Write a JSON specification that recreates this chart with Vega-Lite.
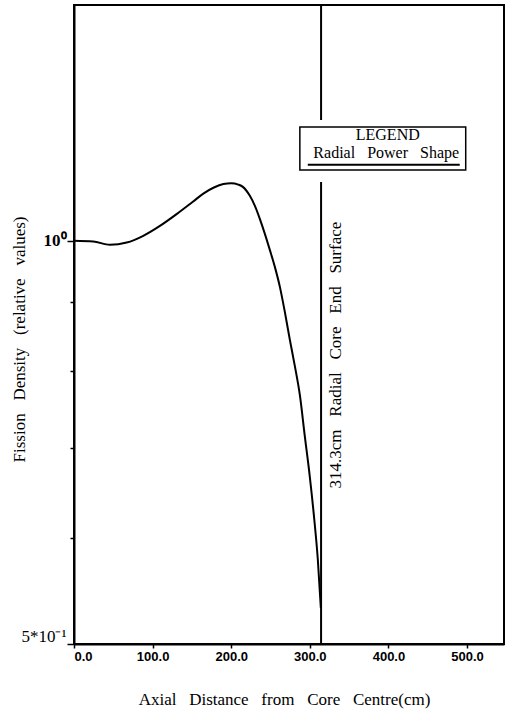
{
  "$schema": "https://vega.github.io/schema/vega-lite/v6.json",
  "width": 430,
  "height": 639,
  "autosize": {"type": "none"},
  "padding": {"left": 74, "top": 5, "right": 2, "bottom": 66},
  "background": "white",
  "config": {
    "view": {"stroke": "black", "strokeWidth": 2},
    "axis": {"grid": false, "domainColor": "black", "domainWidth": 2, "tickColor": "black", "tickWidth": 1.5, "labelColor": "black", "titleColor": "black"}
  },
  "datasets": {
    "curve": [
      {"x": 0, "y": 1.000},
      {"x": 24.5, "y": 0.9988},
      {"x": 45.8, "y": 0.9932},
      {"x": 67.0, "y": 0.997},
      {"x": 88.1, "y": 1.0087},
      {"x": 109.3, "y": 1.026},
      {"x": 130.5, "y": 1.047},
      {"x": 151.6, "y": 1.070},
      {"x": 165.0, "y": 1.085},
      {"x": 178.0, "y": 1.096},
      {"x": 190.0, "y": 1.1025},
      {"x": 200.0, "y": 1.104},
      {"x": 209.0, "y": 1.1015},
      {"x": 214.8, "y": 1.0972},
      {"x": 223.7, "y": 1.0804},
      {"x": 230.1, "y": 1.0620},
      {"x": 236.4, "y": 1.0385},
      {"x": 242.8, "y": 1.0121},
      {"x": 249.1, "y": 0.9846},
      {"x": 255.5, "y": 0.9562},
      {"x": 261.9, "y": 0.9239},
      {"x": 268.2, "y": 0.8850},
      {"x": 274.6, "y": 0.8434},
      {"x": 280.9, "y": 0.8065},
      {"x": 287.3, "y": 0.7672},
      {"x": 293.6, "y": 0.7148},
      {"x": 300.0, "y": 0.6663},
      {"x": 305.1, "y": 0.6242},
      {"x": 310.2, "y": 0.5777},
      {"x": 314.0, "y": 0.5320}
    ],
    "surface": [{"x": 314.3}],
    "gap": [{"x": 287.3, "x2": 498.3, "y": 1.1066, "y2": 1.2311}],
    "box": [{"x": 287.3, "x2": 498.3, "y": 1.1296, "y2": 1.2163}],
    "underline": [{"x": 297.4, "x2": 490.7, "y": 1.1397}],
    "labels": [
      {"x": 399.1, "y": 1.1999, "label": "LEGEND"},
      {"x": 397.2, "y": 1.1633, "label": "Radial \u2002Power \u2002Shape"}
    ],
    "annot": [{"x": 333.9, "y": 0.8217, "label": "314.3cm \u2002Radial \u2002Core \u2002End \u2002Surface"}]
  },
  "layer": [
    {
      "data": {"name": "curve"},
      "mark": {"type": "line", "color": "black", "strokeWidth": 2, "interpolate": "monotone"},
      "encoding": {
        "x": {
          "field": "x", "type": "quantitative",
          "scale": {"domain": [0, 547], "nice": false, "zero": false},
          "axis": {
            "values": [0, 100, 200, 300, 400, 500],
            "labelExpr": "format(datum.value, '.1f')",
            "labelFont": "Liberation Sans", "labelFontSize": 13, "labelFontWeight": "bold",
            "tickSize": 4, "labelPadding": 2,
            "title": "Axial \u2002Distance \u2002from \u2002Core \u2002Centre(cm)",
            "titleFont": "Liberation Serif", "titleFontSize": 17, "titleFontWeight": "normal",
            "titlePadding": 28, "titleX": 210
          }
        },
        "y": {
          "field": "y", "type": "quantitative",
          "scale": {"type": "log", "domain": [0.5, 1.5], "nice": false, "zero": false},
          "axis": {
            "values": [0.5, 0.6, 0.7, 0.8, 0.9, 1.0],
            "labelExpr": "datum.value == 1 ? '10⁰' : (datum.value == 0.5 ? '5*10⁻¹' : '')",
            "labelFont": "Liberation Serif", "labelFontSize": 17,
            "labelFontWeight": {"condition": {"test": "datum.value == 1", "value": "bold"}, "value": "normal"},
            "labelOffset": {"condition": {"test": "datum.value == 0.5", "value": -8}, "value": 0},
            "tickSize": {"condition": {"test": "datum.value == 1 || datum.value == 0.5", "value": 7}, "value": 4},
            "labelPadding": 1, "labelFlush": false,
            "title": "Fission \u2002Density \u2002(relative \u2002values)",
            "titleFont": "Liberation Serif", "titleFontSize": 17, "titleFontWeight": "normal",
            "titleX": -55, "titleY": 334, "titleBaseline": "middle", "titleAngle": 270
          }
        }
      }
    },
    {
      "data": {"name": "surface"},
      "mark": {"type": "rule", "color": "black", "strokeWidth": 2},
      "encoding": {"x": {"field": "x", "type": "quantitative"}}
    },
    {
      "data": {"name": "gap"},
      "mark": {"type": "rect", "fill": "white", "strokeWidth": 0},
      "encoding": {
        "x": {"field": "x", "type": "quantitative"},
        "x2": {"field": "x2"},
        "y": {"field": "y", "type": "quantitative"},
        "y2": {"field": "y2"}
      }
    },
    {
      "data": {"name": "box"},
      "mark": {"type": "rect", "fill": "white", "stroke": "black", "strokeWidth": 1.5},
      "encoding": {
        "x": {"field": "x", "type": "quantitative"},
        "x2": {"field": "x2"},
        "y": {"field": "y", "type": "quantitative"},
        "y2": {"field": "y2"}
      }
    },
    {
      "data": {"name": "underline"},
      "mark": {"type": "rule", "color": "black", "strokeWidth": 2},
      "encoding": {
        "x": {"field": "x", "type": "quantitative"},
        "x2": {"field": "x2"},
        "y": {"field": "y", "type": "quantitative"}
      }
    },
    {
      "data": {"name": "labels"},
      "mark": {"type": "text", "font": "Liberation Serif", "fontSize": 16, "color": "black", "align": "center", "baseline": "middle"},
      "encoding": {
        "x": {"field": "x", "type": "quantitative"},
        "y": {"field": "y", "type": "quantitative"},
        "text": {"field": "label"}
      }
    },
    {
      "data": {"name": "annot"},
      "mark": {"type": "text", "font": "Liberation Serif", "fontSize": 17, "color": "black", "align": "center", "baseline": "middle", "angle": 270},
      "encoding": {
        "x": {"field": "x", "type": "quantitative"},
        "y": {"field": "y", "type": "quantitative"},
        "text": {"field": "label"}
      }
    }
  ]
}
